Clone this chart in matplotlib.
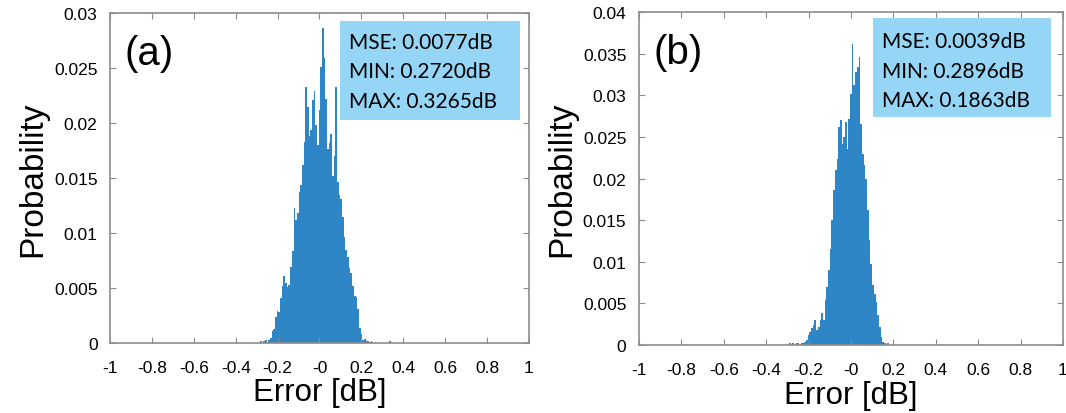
import numpy as np
import matplotlib
matplotlib.use("Agg")
import matplotlib.pyplot as plt
from matplotlib.ticker import FuncFormatter

# Histogram bins (width 0.008 dB), first bin centre at -0.296
bin_start = -0.296
bin_width = 0.008

# Panel (a) probabilities per bin
prob_a = [0, 0, 0.0002, 0, 0.0002, 0.0003, 0, 0.0003, 0.0005, 0.0011,
          0.0013, 0.0024, 0.0029, 0.0028, 0.0041, 0.0052, 0.0061, 0.0055, 0.0051, 0.0053,
          0.0069, 0.0084, 0.0123, 0.0112, 0.0118, 0.0137, 0.0144, 0.0162, 0.0183, 0.0233,
          0.0215, 0.0188, 0.0194, 0.0221, 0.0229, 0.0198, 0.0180, 0.0212, 0.0251, 0.0286,
          0.0259, 0.0222, 0.0176, 0.0182, 0.0190, 0.0152, 0.0170, 0.0233, 0.0146, 0.0135,
          0.0131, 0.0115, 0.0096, 0.0085, 0.0078, 0.0068, 0.0064, 0.0052, 0.0043, 0.0042,
          0.0031, 0.0014, 0.0008, 0.0003, 0.0004, 0.0002, 0.0002, 0.0001, 0.0002, 0,
          0, 0, 0, 0, 0, 0, 0, 0, 0, 0.0002]

# Panel (b) probabilities per bin
prob_b = [0, 0.0002, 0, 0.0002, 0, 0.0002, 0.0002, 0, 0.0002, 0.0003,
          0.0004, 0.0006, 0.0012, 0.0016, 0.0020, 0.0024, 0.0030, 0.0018, 0.0022, 0.0030,
          0.0038, 0.0030, 0.0054, 0.0070, 0.0090, 0.0116, 0.0150, 0.0186, 0.0210, 0.0224,
          0.0262, 0.0270, 0.0242, 0.0250, 0.0268, 0.0236, 0.0272, 0.0302, 0.0362, 0.0312,
          0.0328, 0.0334, 0.0346, 0.0266, 0.0230, 0.0216, 0.0200, 0.0162, 0.0126, 0.0098,
          0.0072, 0.0062, 0.0052, 0.0036, 0.0022, 0.0010, 0.0004, 0.0002, 0, 0.0002]

panels = ["(a)", "(b)"]
stats_a = ["MSE: 0.0077dB", "MIN: 0.2720dB", "MAX: 0.3265dB"]
stats_b = ["MSE: 0.0039dB", "MIN: 0.2896dB", "MAX: 0.1863dB"]
ymax = [0.03, 0.04]

plt.rcParams["font.family"] = ["Liberation Sans", "DejaVu Sans"]
plt.rcParams["axes.unicode_minus"] = False

fig = plt.figure(figsize=(10.66, 4.14), dpi=100)
ax_a = fig.add_axes([0.1032, 0.169, 0.393, 0.797])
ax_b = fig.add_axes([0.5994, 0.164, 0.3977, 0.804])

fmt = FuncFormatter(lambda v, p: "%g" % round(v, 4))

for ax, probs, label, stats, top, box in [
        (ax_a, prob_a, panels[0], stats_a, ymax[0], (0.549, 0.675, 0.43, 0.30)),
        (ax_b, prob_b, panels[1], stats_b, ymax[1], (0.552, 0.685, 0.421, 0.297))]:
    centers = bin_start + bin_width * np.arange(len(probs))
    ax.bar(centers, probs, width=bin_width, color="#2f86c6", linewidth=0)

    ax.set_xlim(-1, 1)
    ax.set_ylim(0, top)
    ax.set_xticks(np.arange(-1, 1.01, 0.2))
    ax.set_yticks(np.arange(0, top + 0.0001, 0.005))
    ax.xaxis.set_major_formatter(fmt)
    ax.yaxis.set_major_formatter(fmt)
    ax.tick_params(direction="in", top=True, right=True, length=4,
                   color="#8c8c8c", labelsize=12.5, pad=12)
    ax.tick_params(axis="y", pad=9)
    for s in ax.spines.values():
        s.set_color("#8c8c8c")
        s.set_linewidth(1.2)

    ax.set_xlabel("Error [dB]", fontsize=22.5, labelpad=2)
    ax.set_ylabel("Probability", fontsize=24, labelpad=4)

    ax.text(0.035, 0.88, label, transform=ax.transAxes, fontsize=29,
            va="center", ha="left")

    bx, by, bw, bh = box
    ax.add_patch(plt.Rectangle((bx, by), bw, bh, transform=ax.transAxes,
                               facecolor="#95d5f5", edgecolor="none", zorder=3))
    for k, line in enumerate(stats):
        ax.text(bx + 0.022, 0.913 - 0.089 * k, line, transform=ax.transAxes,
                fontsize=15, family="Lato", va="center", ha="left", zorder=4)

fig.savefig("out.png", dpi=100)
